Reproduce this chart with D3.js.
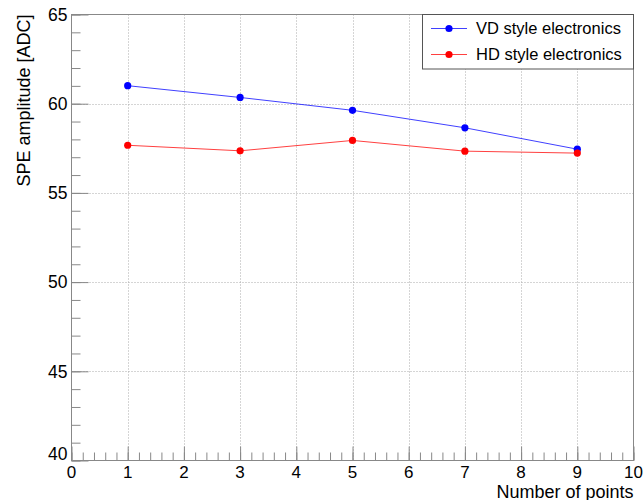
<!DOCTYPE html>
<html>
<head>
<meta charset="utf-8">
<script src="https://cdn.jsdelivr.net/npm/d3@7"></script>
<style>
  html, body { margin: 0; padding: 0; background: #fff; }
  svg { display: block; font-family: "Liberation Sans", Arial, Helvetica, sans-serif; }
</style>
</head>
<body>
<svg id="chart" width="644" height="500"></svg>
<script>
// Number of points used in the amplitude fit
const nPoints = [1, 3, 5, 7, 9];
// SPE amplitude [ADC] for each electronics flavour
const vdAmplitude = [61.01, 60.35, 59.63, 58.65, 57.45];
const hdAmplitude = [57.67, 57.36, 57.94, 57.34, 57.23];
const seriesNames = ["VD style electronics", "HD style electronics"];
const seriesColors = ["#0000ff", "#ff0000"];
const xTicks = [0, 1, 2, 3, 4, 5, 6, 7, 8, 9, 10];
const yTicks = [40, 45, 50, 55, 60, 65];

const svg = d3.select("#chart");
const frame = { left: 71.5, right: 633.5, top: 14.5, bottom: 460.5 };

const x = d3.scaleLinear().domain([0, 10]).range([frame.left, frame.right]);
const y = d3.scaleLinear().domain([40, 65]).range([frame.bottom, frame.top]);

const axisColor = "#888";
const labelSize = 17.5;
const titleSize = 18;

// dotted grid at the major divisions
const grid = svg.append("g");
grid.selectAll("line.gx").data(xTicks.filter(t => t > 0 && t < 10)).join("line")
  .attr("x1", d => Math.round(x(d)) + 0.5).attr("x2", d => Math.round(x(d)) + 0.5)
  .attr("y1", frame.top).attr("y2", frame.bottom)
  .attr("stroke", "#aaa").attr("stroke-width", 1).attr("stroke-dasharray", "1,2");
grid.selectAll("line.gy").data(yTicks.filter(t => t > 40 && t < 65)).join("line")
  .attr("x1", frame.left).attr("x2", frame.right)
  .attr("y1", d => Math.round(y(d)) + 0.5).attr("y2", d => Math.round(y(d)) + 0.5)
  .attr("stroke", "#aaa").attr("stroke-width", 1).attr("stroke-dasharray", "1,2");

// frame
svg.append("rect")
  .attr("x", frame.left).attr("y", frame.top)
  .attr("width", frame.right - frame.left).attr("height", frame.bottom - frame.top)
  .attr("fill", "none").attr("stroke", axisColor).attr("stroke-width", 1);

// x axis: major ticks at integers, 5 subdivisions each
const xMinor = d3.range(0, 10.0001, 0.2);
const xAxis = d3.axisTop(x).tickValues(xMinor).tickSize(8).tickFormat("");
svg.append("g").attr("transform", `translate(0,${frame.bottom})`).call(xAxis)
  .call(g => g.select(".domain").remove())
  .call(g => g.selectAll("line").attr("stroke", axisColor));
const xMajor = d3.axisTop(x).tickValues(xTicks).tickSize(14).tickFormat("");
svg.append("g").attr("transform", `translate(0,${frame.bottom})`).call(xMajor)
  .call(g => g.select(".domain").remove())
  .call(g => g.selectAll("line").attr("stroke", axisColor));
svg.append("g").selectAll("text").data(xTicks).join("text")
  .attr("x", d => x(d)).attr("y", 477.5)
  .attr("text-anchor", "middle").attr("font-size", 17).attr("fill", "#000")
  .text(d => d);

// y axis: major ticks every 5, 5 subdivisions each
const yMinor = d3.range(40, 65.0001, 1);
const yAxis = d3.axisRight(y).tickValues(yMinor).tickSize(9).tickFormat("");
svg.append("g").attr("transform", `translate(${frame.left},0)`).call(yAxis)
  .call(g => g.select(".domain").remove())
  .call(g => g.selectAll("line").attr("stroke", axisColor));
const yMajor = d3.axisRight(y).tickValues(yTicks).tickSize(17).tickFormat("");
svg.append("g").attr("transform", `translate(${frame.left},0)`).call(yMajor)
  .call(g => g.select(".domain").remove())
  .call(g => g.selectAll("line").attr("stroke", axisColor));
svg.append("g").selectAll("text").data(yTicks).join("text")
  .attr("x", 67.5).attr("y", d => d === 40 ? y(d) - 1 : y(d) + 6.3)
  .attr("text-anchor", "end").attr("font-size", labelSize).attr("fill", "#000")
  .text(d => d);

// axis titles
svg.append("text")
  .attr("x", frame.right).attr("y", 497.5)
  .attr("text-anchor", "end").attr("font-size", titleSize).attr("fill", "#000")
  .text("Number of points");
svg.append("text")
  .attr("transform", `translate(29.5,${frame.top}) rotate(-90)`)
  .attr("text-anchor", "end").attr("font-size", titleSize).attr("fill", "#000")
  .text("SPE amplitude [ADC]");

// data series
const series = [vdAmplitude, hdAmplitude];
const line = d3.line().x((d, i) => x(nPoints[i])).y(d => y(d));
series.forEach((vals, s) => {
  const g = svg.append("g");
  g.append("path").datum(vals)
    .attr("d", line).attr("fill", "none")
    .attr("stroke", seriesColors[s]).attr("stroke-width", 1).attr("stroke-opacity", 0.75);
  g.selectAll("circle").data(vals).join("circle")
    .attr("cx", (d, i) => x(nPoints[i])).attr("cy", d => y(d))
    .attr("r", 3.6).attr("fill", seriesColors[s]);
});

// legend
const legend = svg.append("g");
legend.append("rect")
  .attr("x", 422.5).attr("y", frame.top).attr("width", 211).attr("height", 54.5)
  .attr("fill", "#fff").attr("stroke", "#555").attr("stroke-width", 1);
seriesNames.forEach((name, s) => {
  const cy = 28.5 + s * 26;
  legend.append("line")
    .attr("x1", 431).attr("x2", 467).attr("y1", cy).attr("y2", cy)
    .attr("stroke", seriesColors[s]).attr("stroke-width", 1).attr("stroke-opacity", 0.75);
  legend.append("circle").attr("cx", 449).attr("cy", cy).attr("r", 3.6).attr("fill", seriesColors[s]);
  legend.append("text")
    .attr("x", 476).attr("y", cy + 5.8)
    .attr("font-size", 16.5).attr("fill", "#000")
    .text(name);
});
</script>
</body>
</html>
